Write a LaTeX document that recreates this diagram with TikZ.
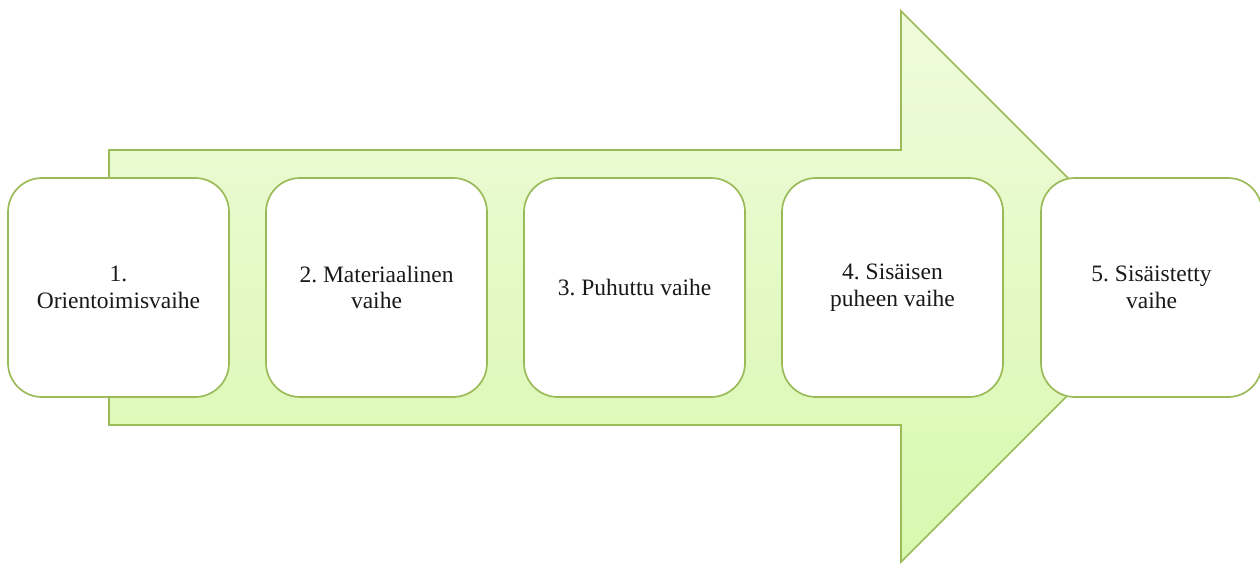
\documentclass[tikz,border=0pt]{standalone}
\usepackage{fontspec}
\setmainfont{Liberation Serif}
\frenchspacing
\definecolor{edge}{HTML}{9BBB59}
\definecolor{topc}{HTML}{EFFBDC}
\definecolor{botc}{HTML}{D8F8AE}
\begin{document}
\begin{tikzpicture}[x=1pt,y=-1pt,
  stage/.style={draw=edge, line width=1.7pt, fill=white, rounded corners=34pt,
    minimum width=221pt, minimum height=219pt, inner sep=0pt, align=center,
    text=black!90, font=\fontsize{23.5}{26.5}\selectfont},
  arrowbody/.style={draw=edge, line width=1.7pt, top color=topc, bottom color=botc, line join=miter}]
\useasboundingbox (0,0) rectangle (1260,563);
\path[arrowbody] (109,150) -- (901,150) -- (901,11) -- (1176.5,286.5) -- (901,562) -- (901,425) -- (109,425) -- cycle;
\node[stage] (s1) at (118.5,287.5) {1.\\Orientoimisvaihe};
\node[stage] (s2) at (376.5,287.5) {2. Materiaalinen\\vaihe};
\node[stage] (s3) at (634.5,287.5) {3. Puhuttu vaihe};
\node[stage] (s4) at (892.5,287.5) {4. Sisäisen\\puheen vaihe};
\node[stage] (s5) at (1151.5,287.5) {5. Sisäistetty\\vaihe};
\end{tikzpicture}
\end{document}
